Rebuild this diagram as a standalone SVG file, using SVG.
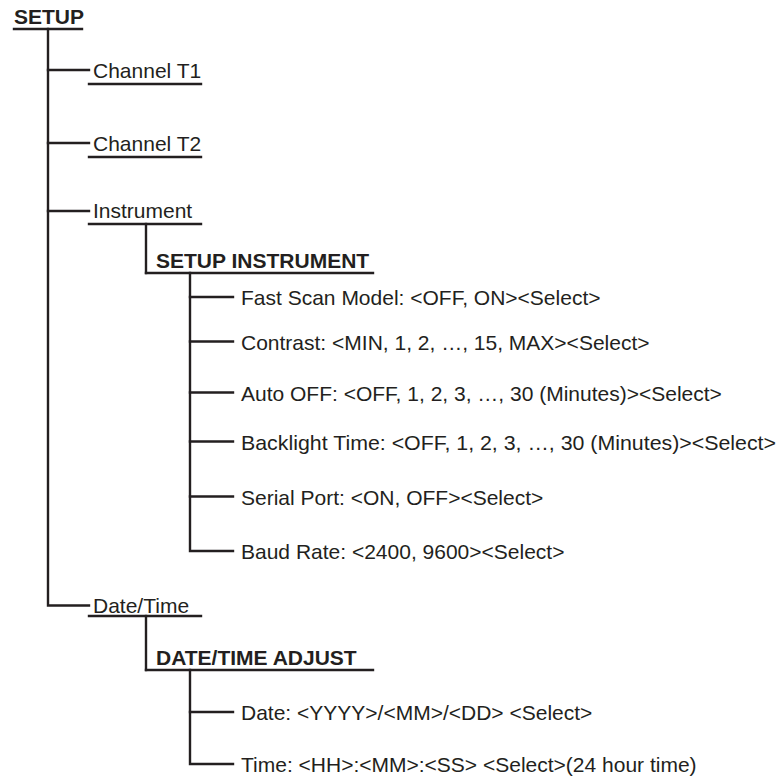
<svg xmlns="http://www.w3.org/2000/svg" width="780" height="777" viewBox="0 0 780 777">
<style>
.t{font-family:"Liberation Sans",Arial,sans-serif;font-size:21px;fill:#231f20}
.h{font-family:"Liberation Sans",Arial,sans-serif;font-size:21px;font-weight:bold;fill:#231f20}
.ln{stroke:#231f20;stroke-width:2.4;fill:none;stroke-linecap:square}
</style>
<rect width="780" height="777" fill="#ffffff"/>
<g id="connectors" class="ln">
<path d="M48 29V605.5H89"/>
<path d="M48 70H89M48 143H89M48 211H89"/>
<path d="M146 224V273"/>
<path d="M190 273V551H233"/>
<path d="M190 297H233M190 341.5H233M190 392.5H233M190 441.5H233M190 496.5H233"/>
<path d="M146 616V670"/>
<path d="M190 670V764H233"/>
<path d="M190 712H233"/>
</g>
<g id="setup">
<text class="h" x="14" y="24">SETUP</text>
<line class="ln" x1="14" y1="29" x2="82" y2="29"/>
</g>
<g id="channel-t1">
<text class="t" x="93" y="78">Channel T1</text>
<line class="ln" x1="89" y1="84" x2="201" y2="84"/>
</g>
<g id="channel-t2">
<text class="t" x="93" y="151">Channel T2</text>
<line class="ln" x1="89" y1="157" x2="201" y2="157"/>
</g>
<g id="instrument">
<text class="t" x="93" y="218">Instrument</text>
<line class="ln" x1="89" y1="224" x2="201" y2="224"/>
</g>
<g id="setup-instrument">
<text class="h" x="156" y="268">SETUP INSTRUMENT</text>
<line class="ln" x1="146" y1="273" x2="373" y2="273"/>
</g>
<g id="fast-scan"><text class="t" x="241" y="305">Fast Scan Model: &lt;OFF, ON&gt;&lt;Select&gt;</text></g>
<g id="contrast"><text class="t" x="241" y="349.5">Contrast: &lt;MIN, 1, 2, …, 15, MAX&gt;&lt;Select&gt;</text></g>
<g id="auto-off"><text class="t" x="241" y="400.5">Auto OFF: &lt;OFF, 1, 2, 3, …, 30 (Minutes)&gt;&lt;Select&gt;</text></g>
<g id="backlight"><text class="t" x="241" y="449.5" textLength="535" lengthAdjust="spacingAndGlyphs">Backlight Time: &lt;OFF, 1, 2, 3, …, 30 (Minutes)&gt;&lt;Select&gt;</text></g>
<g id="serial-port"><text class="t" x="241" y="504.5">Serial Port: &lt;ON, OFF&gt;&lt;Select&gt;</text></g>
<g id="baud-rate"><text class="t" x="241" y="559">Baud Rate: &lt;2400, 9600&gt;&lt;Select&gt;</text></g>
<g id="date-time">
<text class="t" x="93" y="613">Date/Time</text>
<line class="ln" x1="89" y1="616" x2="201" y2="616"/>
</g>
<g id="date-time-adjust">
<text class="h" x="156" y="665">DATE/TIME ADJUST</text>
<line class="ln" x1="146" y1="670" x2="373" y2="670"/>
</g>
<g id="date"><text class="t" x="241" y="720">Date: &lt;YYYY&gt;/&lt;MM&gt;/&lt;DD&gt; &lt;Select&gt;</text></g>
<g id="time"><text class="t" x="241" y="772">Time: &lt;HH&gt;:&lt;MM&gt;:&lt;SS&gt; &lt;Select&gt;(24 hour time)</text></g>
</svg>
